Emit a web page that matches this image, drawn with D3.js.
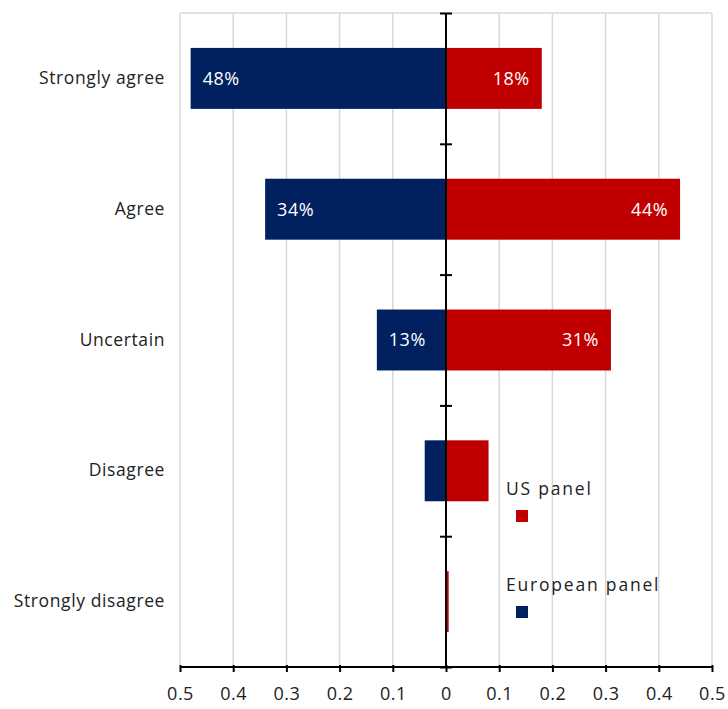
<!DOCTYPE html>
<html>
<head>
<meta charset="utf-8">
<script src="https://cdn.jsdelivr.net/npm/d3@7"></script>
<style>
  body { margin: 0; background: #fff; }
  text { font-family: "Open Sans", sans-serif; }
</style>
</head>
<body>
<div id="chart"></div>
<script>
// data
const categories = ["Strongly agree", "Agree", "Uncertain", "Disagree", "Strongly disagree"];
const europeanValues = [0.48, 0.34, 0.13, 0.04, 0];
const usValues = [0.18, 0.44, 0.31, 0.08, 0.005];
const europeanLabels = ["48%", "34%", "13%", "", ""];
const usLabels = ["18%", "44%", "31%", "", ""];
const tickValues = [-0.5, -0.4, -0.3, -0.2, -0.1, 0, 0.1, 0.2, 0.3, 0.4, 0.5];
const tickLabels = ["0.5", "0.4", "0.3", "0.2", "0.1", "0", "0.1", "0.2", "0.3", "0.4", "0.5"];
const seriesNames = ["US panel", "European panel"];

const blue = "#002060", red = "#c00000";

const margin = {top: 13, right: 16, bottom: 42, left: 180},
    width = 728 - margin.left - margin.right,
    height = 709 - margin.top - margin.bottom;

const svg = d3.select("#chart")
    .append("svg")
    .attr("width", 728)
    .attr("height", 709)
    .append("g")
    .attr("transform", "translate(" + margin.left + "," + margin.top + ")");

const x = d3.scaleLinear()
    .domain([-0.5, 0.5])
    .range([0, width]);

const y = d3.scaleBand()
    .domain(categories)
    .range([0, height])
    .paddingInner(0.534)
    .paddingOuter(0.267);

// boundaries between categories, for the ticks on the zero line
const yBound = d3.scaleLinear().domain([0, categories.length]).range([0, height]);

// grey gridlines
svg.append("g")
    .attr("class", "grid")
    .selectAll("line")
    .data(tickValues)
    .join("line")
    .attr("x1", d => x(d))
    .attr("x2", d => x(d))
    .attr("y1", 0)
    .attr("y2", height)
    .attr("stroke", "#d9d9d9")
    .attr("stroke-width", 1.5);

svg.append("line")
    .attr("x1", 0).attr("x2", width)
    .attr("y1", 0).attr("y2", 0)
    .attr("stroke", "#d9d9d9")
    .attr("stroke-width", 1.5);

// bars
const rows = categories.map((c, i) => ({
    cat: c, eu: europeanValues[i], us: usValues[i],
    euLabel: europeanLabels[i], usLabel: usLabels[i]
}));

svg.selectAll("rect.eu")
    .data(rows)
    .join("rect")
    .attr("class", "eu")
    .attr("x", d => x(-d.eu))
    .attr("y", d => y(d.cat))
    .attr("width", d => x(0) - x(-d.eu))
    .attr("height", y.bandwidth())
    .attr("fill", blue);

svg.selectAll("rect.us")
    .data(rows)
    .join("rect")
    .attr("class", "us")
    .attr("x", x(0))
    .attr("y", d => y(d.cat))
    .attr("width", d => x(d.us) - x(0))
    .attr("height", y.bandwidth())
    .attr("fill", red);

// value labels
svg.selectAll("text.euLabel")
    .data(rows)
    .join("text")
    .attr("class", "euLabel")
    .attr("x", d => x(-d.eu) + 12)
    .attr("y", d => y(d.cat) + y.bandwidth() / 2)
    .attr("dy", "0.35em")
    .attr("fill", "white")
    .attr("font-size", 18)
    .attr("letter-spacing", 0.5)
    .text(d => d.euLabel);

svg.selectAll("text.usLabel")
    .data(rows)
    .join("text")
    .attr("class", "usLabel")
    .attr("x", d => x(d.us) - 12)
    .attr("y", d => y(d.cat) + y.bandwidth() / 2)
    .attr("dy", "0.35em")
    .attr("text-anchor", "end")
    .attr("fill", "white")
    .attr("font-size", 18)
    .attr("letter-spacing", 0.5)
    .text(d => d.usLabel);

// category labels
svg.append("g")
    .call(d3.axisLeft(y).tickSize(0).tickPadding(15))
    .call(g => g.select(".domain").remove())
    .selectAll("text")
    .attr("font-size", 17.5)
    .attr("letter-spacing", 0.6)
    .attr("fill", "#222")
    .style("font-family", "'Open Sans', sans-serif");

// zero line with crossing ticks
const zeroAxis = svg.append("g")
    .attr("transform", `translate(${x(0)},0)`)
    .call(d3.axisLeft(yBound).ticks(5).tickFormat(""));
zeroAxis.select(".domain").attr("stroke", "#000").attr("stroke-width", 2).attr("d", `M0,0V${height}`);
zeroAxis.selectAll(".tick line")
    .attr("x1", -6).attr("x2", 6)
    .attr("stroke", "#000").attr("stroke-width", 2);

// bottom axis
const xAxis = svg.append("g")
    .attr("transform", `translate(0,${height})`)
    .call(d3.axisBottom(x)
        .tickValues(tickValues)
        .tickSize(5)
        .tickPadding(15)
        .tickFormat((d, i) => tickLabels[i]));
xAxis.select(".domain").attr("stroke", "#000").attr("stroke-width", 2).attr("d", `M0,0H${width}`);
xAxis.selectAll(".tick line").attr("y1", -2).attr("stroke", "#000").attr("stroke-width", 2);
xAxis.selectAll("text")
    .attr("font-size", 18)
    .attr("letter-spacing", 0.5)
    .attr("fill", "#222")
    .style("font-family", "'Open Sans', sans-serif");

// legend
const legendX = 326, legendY = [482, 578];
const legendColors = [red, blue];
seriesNames.forEach((name, i) => {
    svg.append("text")
        .attr("x", legendX)
        .attr("y", legendY[i])
        .attr("font-size", 17.5)
        .attr("fill", "#222")
        .attr("letter-spacing", 1.8)
        .text(name);
    svg.append("rect")
        .attr("x", legendX + 10)
        .attr("y", legendY[i] + 15)
        .attr("width", 12)
        .attr("height", 12)
        .attr("fill", legendColors[i]);
});
</script>
</body>
</html>
